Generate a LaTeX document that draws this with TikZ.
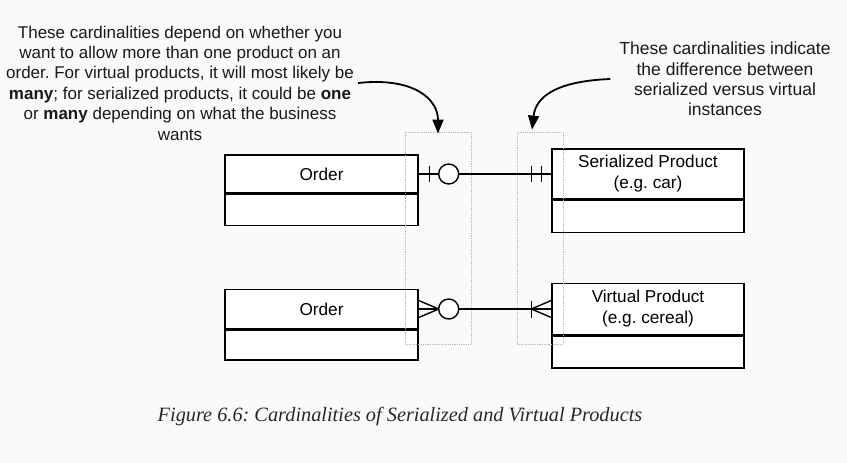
\documentclass[tikz,border=0pt]{standalone}
\usepackage{fontspec}
\setmainfont{Liberation Sans}
\newfontfamily\capfont{Liberation Serif}
\usetikzlibrary{positioning,arrows.meta}
\definecolor{pagebg}{RGB}{250,250,250}
\definecolor{guidegray}{RGB}{185,185,185}
\definecolor{capgray}{RGB}{40,40,40}
\frenchspacing

\tikzset{
  entity/.style={draw, line width=1.4pt, fill=white, minimum width=193pt,
    inner sep=0pt, align=center, font=\fontsize{17.2}{21}\selectfont},
  guide/.style={draw=guidegray, densely dotted, line width=0.8pt, inner sep=0pt},
  note/.style={align=center, inner sep=5pt, text=black!90,
    font=\fontsize{17.5}{20.4}\selectfont},
  rel/.style={line width=1.4pt},
  pointer/.style={line width=1.8pt, -{Triangle[length=14pt,width=11pt]}}
}

\begin{document}
\begin{tikzpicture}[x=1pt,y=-1pt]

\fill [pagebg] (0,0) rectangle (847,463);
\useasboundingbox (0,0) rectangle (847,463);

%\draw [step=50, dotted] (0,0) grid (847,463);

% entities
\node [entity, minimum height=38pt] (order1) at (321.5,174) {Order};
\node [entity, minimum height=31pt, below=0pt of order1] (order1b) {};
\node [entity, minimum height=50pt, minimum width=192pt] (serial) at (648,174)
  {Serialized Product\\(e.g. car)};
\node [entity, minimum height=32pt, minimum width=192pt, below=0pt of serial] (serialb) {};

\node [entity, minimum height=39pt] (order2) at (321.5,309) {Order};
\node [entity, minimum height=30pt, below=0pt of order2] (order2b) {};
\node [entity, minimum height=51pt, minimum width=192pt] (virtual) at (648,309)
  {Virtual Product\\(e.g. cereal)};
\node [entity, minimum height=32pt, minimum width=192pt, below=0pt of virtual] (virtualb) {};

% dotted guides round the ends
\node [guide, minimum width=66pt, minimum height=212pt] (gleft) at (438,238) {};
\node [guide, minimum width=46pt, minimum height=212pt] (gright) at (540,238) {};

% relationships
\draw [rel] (order1.east) -- (serial.west);
\draw [rel] ([shift={(11,-8)}]order1.east) -- ++(0,16);
\draw [rel, fill=white] ([xshift=30]order1.east) circle [radius=10pt];
\draw [rel] ([shift={(-20,-8)}]serial.west) -- ++(0,16);
\draw [rel] ([shift={(-10,-8)}]serial.west) -- ++(0,16);

\draw [rel] (order2.east) -- (virtual.west);
\draw [rel] ([yshift=-8.5]order2.east) -- ([xshift=20]order2.east);
\draw [rel] ([yshift=8.5]order2.east) -- ([xshift=20]order2.east);
\draw [rel, fill=white] ([xshift=30]order2.east) circle [radius=10pt];
\draw [rel] ([shift={(-20,-8.5)}]virtual.west) -- ++(0,17);
\draw [rel] ([xshift=-20]virtual.west) -- ([yshift=-8.5]virtual.west);
\draw [rel] ([xshift=-20]virtual.west) -- ([yshift=8.5]virtual.west);

% notes
\node [note, font=\fontsize{17}{20.4}\selectfont] (leftnote) at (180,83) {These cardinalities depend on whether you\\
  want to allow more than one product on an\\
  order. For virtual products, it will most likely be\\
  \textbf{many}; for serialized products, it could be \textbf{one}\\
  or \textbf{many} depending on what the business\\
  wants};
\node [note] (rightnote) at (725,79) {These cardinalities indicate\\
  the difference between\\
  serialized versus virtual\\
  instances};

\draw [pointer] ([xshift=-1]leftnote.east) .. controls +(55,-6) and +(0,-35) .. ([yshift=-2]gleft.north);
\draw [pointer] ([xshift=-4]rightnote.west) .. controls +(-50,2) and +(4,-35) .. ([shift={(-8,-2)}]gright.north);

% caption
\node [text=capgray, font=\capfont\itshape\fontsize{20.3}{23}\selectfont] (caption) at (400,417)
  {Figure 6.6: Cardinalities of Serialized and Virtual Products};

\end{tikzpicture}
\end{document}
